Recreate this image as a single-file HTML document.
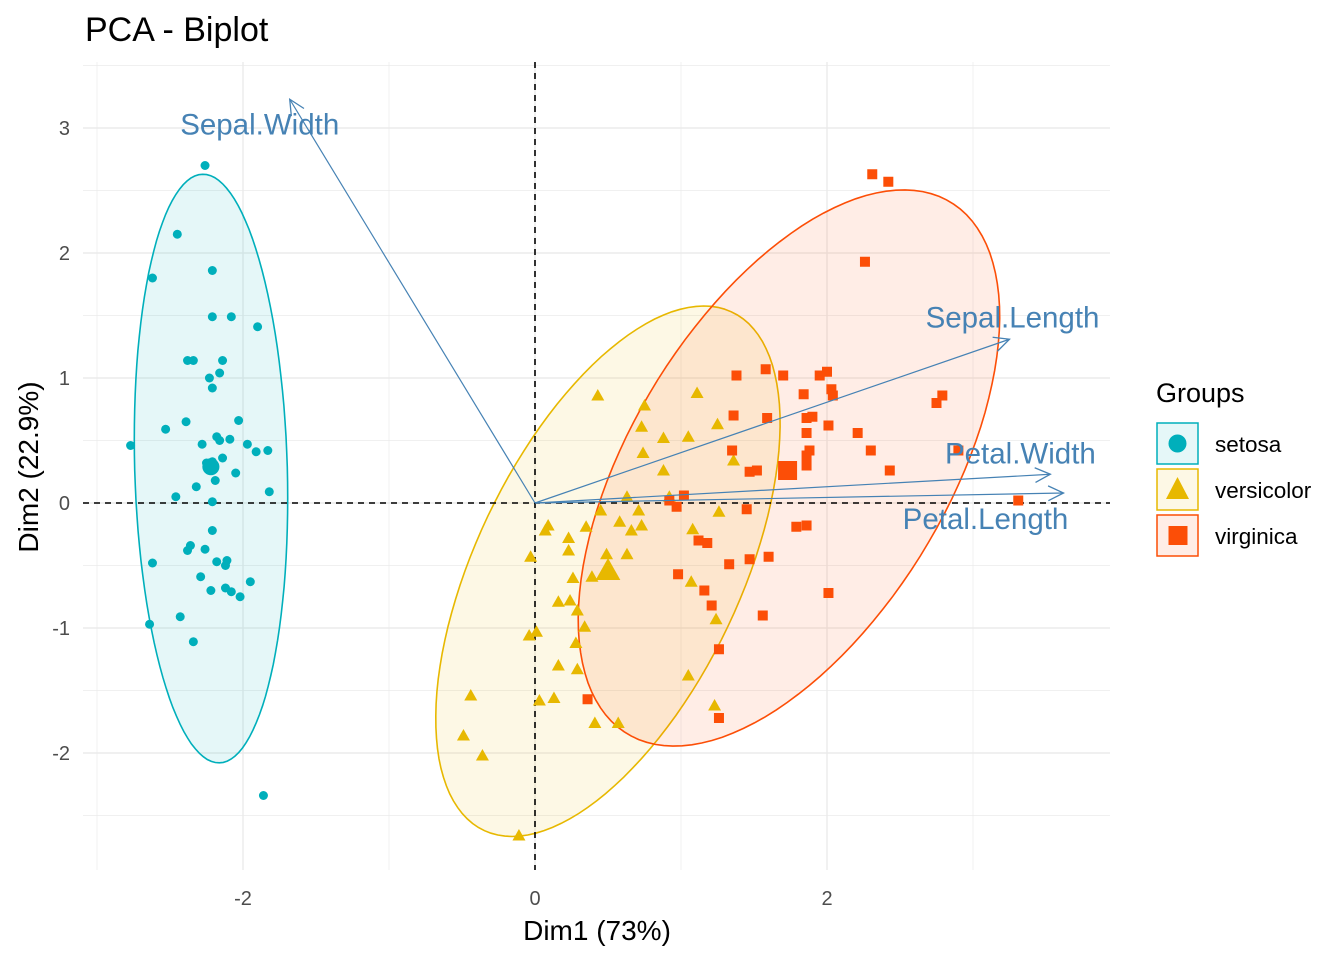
<!DOCTYPE html>
<html><head><meta charset="utf-8"><style>
body{margin:0;background:#fff;}
svg text{font-family:"Liberation Sans",Arial,sans-serif;}
</style></head><body>
<svg id="c" width="1344" height="960" viewBox="0 0 1344 960" xmlns="http://www.w3.org/2000/svg">
<text x="85" y="41" font-size="34" fill="#000">PCA - Biplot</text>
<g id="grid"></g>
<g id="ell"></g>
<g id="ref"></g>
<g id="pts"></g>
<g id="arr"></g>
<g id="ticks"></g>
<text x="597" y="940" font-size="28" text-anchor="middle" fill="#000">Dim1 (73%)</text>
<text transform="translate(38,467) rotate(-90)" font-size="28" text-anchor="middle" fill="#000">Dim2 (22.9%)</text>
<g>
<text x="1156" y="402" font-size="27" fill="#000">Groups</text>
<g>
<rect x="1157" y="423" width="41" height="41" fill="#00AFBB" fill-opacity="0.1" stroke="#00AFBB" stroke-width="1.5"/>
<circle cx="1177.5" cy="443.5" r="9" fill="#00AFBB"/>
<text x="1215" y="452" font-size="22.5" fill="#000">setosa</text></g>
<g>
<rect x="1157" y="469" width="41" height="41" fill="#E7B800" fill-opacity="0.1" stroke="#E7B800" stroke-width="1.5"/>
<polygon points="1177.5,477 1189,499 1166,499" fill="#E7B800"/>
<text x="1215" y="498" font-size="22.5" fill="#000">versicolor</text></g>
<g>
<rect x="1157" y="515" width="41" height="41" fill="#FC4E07" fill-opacity="0.1" stroke="#FC4E07" stroke-width="1.5"/>
<rect x="1168.5" y="526" width="19" height="19" fill="#FC4E07"/>
<text x="1215" y="544" font-size="22.5" fill="#000">virginica</text></g>
</g>
</svg>
<script>
const setosaX=[-2.26,-2.45,-2.62,-2.21,-2.21,-2.08,-1.90,-2.38,-2.34,-2.14,-2.16,-2.23,-2.21,-2.03,-2.53,-2.39,-2.09,-2.28,-2.18,-2.16,-2.25,-2.21,-2.23,-2.14,-2.05,-1.97,-1.91,-1.83,-1.82,-2.32,-2.19,-2.46,-2.21,-2.21,-2.36,-2.38,-2.26,-2.62,-2.18,-2.12,-2.11,-2.29,-2.02,-2.22,-2.12,-2.08,-1.95,-2.43,-2.64,-2.34,-2.77,-1.86];
const setosaY=[2.70,2.15,1.80,1.86,1.49,1.49,1.41,1.14,1.14,1.14,1.04,1.00,0.92,0.66,0.59,0.65,0.51,0.47,0.53,0.50,0.32,0.33,0.28,0.36,0.24,0.47,0.41,0.42,0.09,0.13,0.18,0.05,0.01,-0.22,-0.34,-0.38,-0.37,-0.48,-0.47,-0.50,-0.46,-0.59,-0.75,-0.70,-0.68,-0.71,-0.63,-0.91,-0.97,-1.11,0.46,-2.34];
const versiX=[0.43,1.11,0.75,0.73,1.25,0.88,1.05,0.74,1.36,0.88,0.63,0.92,0.45,0.71,1.26,0.09,0.07,0.35,0.58,0.66,0.73,1.08,0.23,0.23,-0.03,0.49,0.63,0.26,0.39,1.07,0.16,0.24,0.29,0.34,1.24,-0.04,0.01,0.28,0.16,0.29,1.05,-0.44,0.03,0.13,1.23,0.41,0.57,-0.49,-0.36,-0.11];
const versiY=[0.86,0.88,0.78,0.61,0.63,0.52,0.53,0.40,0.34,0.26,0.05,0.05,-0.06,-0.06,-0.07,-0.18,-0.22,-0.19,-0.15,-0.22,-0.18,-0.21,-0.28,-0.38,-0.43,-0.41,-0.41,-0.60,-0.59,-0.63,-0.79,-0.78,-0.86,-0.99,-0.93,-1.06,-1.03,-1.12,-1.30,-1.33,-1.38,-1.54,-1.58,-1.56,-1.62,-1.76,-1.76,-1.86,-2.02,-2.66];
const virgX=[2.31,2.42,2.26,1.38,1.58,1.70,1.95,2.00,2.03,2.04,1.84,2.79,2.75,1.36,1.59,1.86,1.90,2.01,1.86,2.21,1.35,1.88,1.86,2.30,2.90,1.47,1.52,1.86,2.43,3.31,1.02,0.92,0.97,1.45,1.79,1.86,1.12,1.18,1.33,1.47,1.60,0.98,1.16,1.21,2.01,1.56,1.26,0.36,1.26];
const virgY=[2.63,2.57,1.93,1.02,1.07,1.02,1.02,1.05,0.91,0.86,0.87,0.86,0.80,0.70,0.68,0.68,0.69,0.62,0.56,0.56,0.42,0.42,0.38,0.42,0.42,0.25,0.26,0.30,0.26,0.02,0.06,0.02,-0.03,-0.05,-0.19,-0.18,-0.30,-0.32,-0.49,-0.45,-0.43,-0.57,-0.70,-0.82,-0.72,-0.90,-1.17,-1.57,-1.72];
const groupMeans=[[-2.22,0.29],[0.50,-0.54],[1.73,0.26]];
const varNames=["Sepal.Width","Sepal.Length","Petal.Width","Petal.Length"];
const varX=[-1.68,3.25,3.53,3.62];
const varY=[3.23,1.31,0.23,0.08];
const xTicks=[-2,0,2];const xTickLabels=["-2","0","2"];
const yTicks=[-2,-1,0,1,2,3];const yTickLabels=["-2","-1","0","1","2","3"];

const L=83,R=1110,T=62,B=870;
const sx=v=>535+v*146, sy=v=>503-v*125;
const NS="http://www.w3.org/2000/svg";
function mk(tag,parent,attrs){const e=document.createElementNS(NS,tag);for(const k in attrs)e.setAttribute(k,attrs[k]);parent.appendChild(e);return e;}
const grid=document.getElementById('grid');
for(let v=-3;v<=3.01;v+=1){const major=Math.abs(v%2)<0.01;const e=mk('line',grid,{x1:sx(v),x2:sx(v),y1:T,y2:B,stroke:'#ebebeb','stroke-width':major?1.4:0.7});

}
for(let v=-2.5;v<=3.51;v+=0.5){const major=Math.abs(v-Math.round(v))<0.01;const e=mk('line',grid,{x1:L,x2:R,y1:sy(v),y2:sy(v),stroke:'#ebebeb','stroke-width':major?1.4:0.7});

}
const ticks=document.getElementById('ticks');
xTicks.forEach((v,i)=>{const t=mk('text',ticks,{x:sx(v),y:905,'font-size':20,'text-anchor':'middle',fill:'#4d4d4d'});t.textContent=xTickLabels[i];

});
yTicks.forEach((v,i)=>{const t=mk('text',ticks,{x:70,y:sy(v)+7,'font-size':20,'text-anchor':'end',fill:'#4d4d4d'});t.textContent=yTickLabels[i];

});

const groups=[{n:'setosa',x:setosaX,y:setosaY,c:'#00AFBB'},{n:'versicolor',x:versiX,y:versiY,c:'#E7B800'},{n:'virginica',x:virgX,y:virgY,c:'#FC4E07'}];
const ell=document.getElementById('ell');
groups.forEach(g=>{const n=g.x.length;let mx=0,my=0;for(let i=0;i<n;i++){mx+=g.x[i];my+=g.y[i];}mx/=n;my/=n;
let a=0,b=0,c=0;for(let i=0;i<n;i++){const dx=g.x[i]-mx,dy=g.y[i]-my;a+=dx*dx;b+=dx*dy;c+=dy*dy;}a/=n-1;b/=n-1;c/=n-1;
const tr=(a+c)/2,d=Math.sqrt(((a-c)/2)**2+b*b);const l1=tr+d,l2=tr-d;const th=Math.atan2(l1-a,b);
const k=Math.sqrt(5.991)*1.035;const pts=[];for(let i=0;i<120;i++){const t=2*Math.PI*i/120;const u=k*Math.sqrt(l1)*Math.cos(t),w=k*Math.sqrt(Math.max(l2,0))*Math.sin(t);
const px=mx+u*Math.cos(th)-w*Math.sin(th),py=my+u*Math.sin(th)+w*Math.cos(th);pts.push(sx(px).toFixed(1)+','+sy(py).toFixed(1));}
const e=mk('polygon',ell,{points:pts.join(' '),fill:g.c,'fill-opacity':0.1,stroke:g.c,'stroke-width':1.6});

});

const ref=document.getElementById('ref');
let e1=mk('line',ref,{x1:L,x2:R,y1:sy(0),y2:sy(0),stroke:'#000','stroke-width':1.6,'stroke-dasharray':'6,5'});


let e2=mk('line',ref,{x1:sx(0),x2:sx(0),y1:T,y2:B,stroke:'#000','stroke-width':1.6,'stroke-dasharray':'6,5'});



const pg=document.getElementById('pts');
function marker(gi,x,y,s){const g=groups[gi];let e;const X=sx(x),Y=sy(y);
if(gi===0)e=mk('circle',pg,{cx:X,cy:Y,r:4.5*s,fill:g.c});
else if(gi===1)e=mk('polygon',pg,{points:`${X},${Y-6.5*s} ${X+6.5*s},${Y+5*s} ${X-6.5*s},${Y+5*s}`,fill:g.c});
else e=mk('rect',pg,{x:X-5*s,y:Y-5*s,width:10*s,height:10*s,fill:g.c});return e;}
groups.forEach((g,gi)=>{for(let i=0;i<g.x.length;i++){const e=marker(gi,g.x[i],g.y[i],1);

}
const m=marker(gi,groupMeans[gi][0],groupMeans[gi][1],1.9);

});

const ar=document.getElementById('arr');
const labOff=[[-30,35],[3,-12],[-30,-11],[-78,36]];
varNames.forEach((nm,i)=>{const x2=sx(varX[i]),y2=sy(varY[i]),x1=sx(0),y1=sy(0);
const l=mk('line',ar,{x1,y1,x2,y2,stroke:'#4682B4','stroke-width':1.2});


const ang=Math.atan2(y2-y1,x2-x1),h=17;
const p=mk('polyline',ar,{points:`${x2-h*Math.cos(ang-0.45)},${y2-h*Math.sin(ang-0.45)} ${x2},${y2} ${x2-h*Math.cos(ang+0.45)},${y2-h*Math.sin(ang+0.45)}`,fill:'none',stroke:'#4682B4','stroke-width':1.3});


const t=mk('text',ar,{x:x2+labOff[i][0],y:y2+labOff[i][1],'font-size':29.5,'text-anchor':'middle',fill:'#4682B4'});t.textContent=nm;

});
</script>
</body></html>
